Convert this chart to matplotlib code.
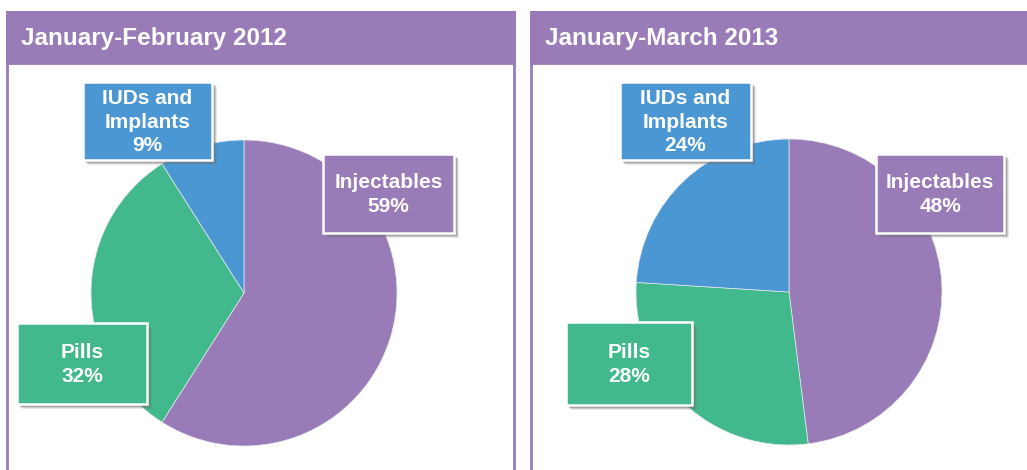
import matplotlib.pyplot as plt
from matplotlib.patches import Rectangle

plt.rcParams['font.family'] = ['Liberation Sans', 'DejaVu Sans']

# data
methods = ["Injectables", "Pills", "IUDs and\nImplants"]
titles = ["January-February 2012", "January-March 2013"]
share_2012 = [59, 32, 9]
share_2013 = [48, 28, 24]

PURPLE = "#997bb7"
GREEN = "#41b98c"
BLUE = "#4a97d3"
colors = [PURPLE, GREEN, BLUE]

W, H = 1027, 470


def px_axes(fig, x0, y0, w, h):
    # axes given in pixel coords measured from top-left
    return fig.add_axes([x0 / W, (H - y0 - h) / H, w / W, h / H])


def label_box(ax, x0, y0, x1, y1, color, text):
    for off, a in [(5, 0.15), (4, 0.25), (3, 0.4)]:
        ax.add_patch(Rectangle((x0 + off, y0 + off), x1 - x0, y1 - y0,
                               facecolor="#6f6f6f", edgecolor="none",
                               alpha=a))
    box = Rectangle((x0, y0), x1 - x0, y1 - y0,
                    facecolor=color, edgecolor="white", linewidth=1.8)
    ax.add_patch(box)
    ax.text((x0 + x1) / 2, (y0 + y1) / 2 + 1, text, ha="center",
            va="center", color="white", fontsize=15, fontweight="bold",
            linespacing=1.33)


fig = plt.figure(figsize=(W / 100, H / 100), dpi=100)

# background: panels with header bars
bg = px_axes(fig, 0, 0, W, H)
bg.set_xlim(0, W)
bg.set_ylim(H, 0)
bg.axis("off")

panels = [(7, 514), (531, 1040)]
for (px0, px1), title in zip(panels, titles):
    bg.add_patch(Rectangle((px0, 12), px1 - px0, 500, facecolor="white",
                           edgecolor=PURPLE, linewidth=2.0))
    bg.add_patch(Rectangle((px0, 12), px1 - px0, 51, facecolor=PURPLE,
                           edgecolor=PURPLE, linewidth=2.0))
    bg.text(px0 + 14, 39, title, ha="left", va="center", color="white",
            fontsize=17.5, fontweight="bold")

# pies
centers = [(244, 293), (789, 292)]
r = 153
for (cx, cy), values in zip(centers, [share_2012, share_2013]):
    ax = px_axes(fig, cx - r, cy - r, 2 * r, 2 * r)
    ax.pie(values, colors=colors, startangle=90, counterclock=False,
           radius=1, wedgeprops=dict(edgecolor="#e8e8f0", linewidth=0.5))
    ax.set_xlim(-1, 1)
    ax.set_ylim(-1, 1)
    ax.set_aspect("equal")
    ax.axis("off")

# label boxes on top
top = px_axes(fig, 0, 0, W, H)
top.set_xlim(0, W)
top.set_ylim(H, 0)
top.axis("off")
top.patch.set_alpha(0)

boxes = [
    [(323, 154, 454, 233), (17, 323, 147, 404), (83, 82, 212, 160)],
    [(876, 154, 1004, 233), (566, 322, 692, 405), (620, 82, 751, 160)],
]
for pos, values in zip(boxes, [share_2012, share_2013]):
    for (x0, y0, x1, y1), name, v, c in zip(pos, methods, values, colors):
        label_box(top, x0, y0, x1, y1, c, f"{name}\n{v}%")

fig.savefig("out.png", dpi=100)
